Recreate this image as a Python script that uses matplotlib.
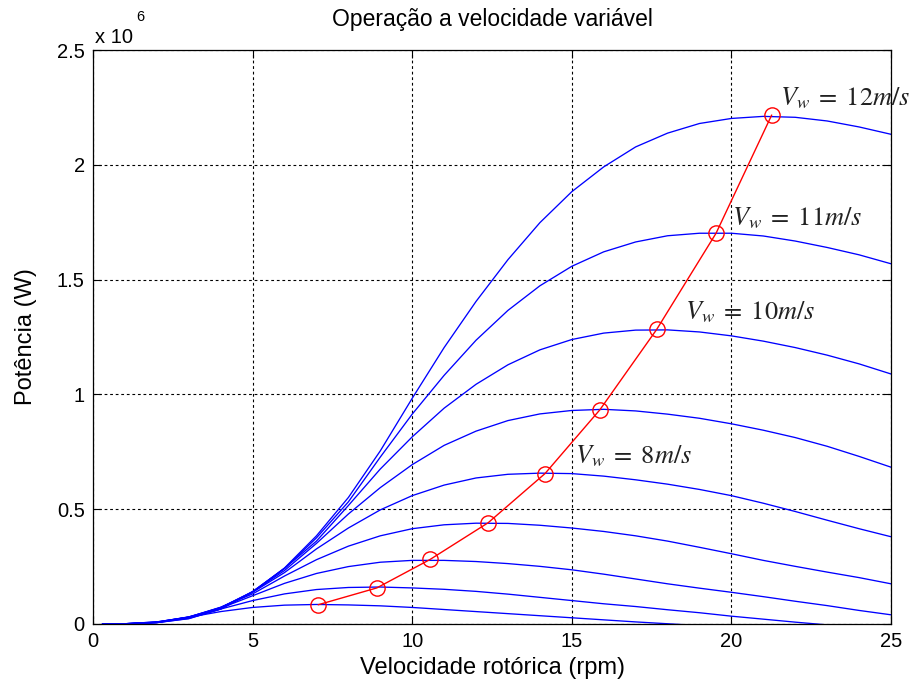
import matplotlib
matplotlib.use("Agg")
import matplotlib.pyplot as plt

plt.rcParams['font.family'] = ['Liberation Sans', 'DejaVu Sans']
plt.rcParams['mathtext.fontset'] = 'custom'
plt.rcParams['mathtext.rm'] = 'Liberation Sans'
plt.rcParams['mathtext.it'] = 'Liberation Sans:italic'

# rotor speed samples (rpm)
rpm = [0.3, 1, 2, 3, 4, 5, 6, 7, 8, 9, 10, 11, 12, 13, 14, 15, 16, 17, 18, 19, 20, 21, 22, 23, 24, 25]

# power curves (x 10^6 W), one per wind speed
P4 = [0, 0.001, 0.009, 0.029, 0.054, 0.072, 0.082, 0.085, 0.083, 0.079, 0.072, 0.063, 0.054,
      0.045, 0.036, 0.027, 0.018, 0.009, 0.001, -0.007, -0.016, -0.024, -0.031, -0.039, -0.047, -0.055]
P5 = [0, 0.001, 0.009, 0.030, 0.065, 0.102, 0.131, 0.150, 0.159, 0.161, 0.157, 0.151, 0.142,
      0.130, 0.116, 0.102, 0.088, 0.076, 0.062, 0.049, 0.034, 0.021, 0.008, -0.004, -0.017, -0.030]
P6 = [0, 0.001, 0.008, 0.031, 0.069, 0.123, 0.177, 0.220, 0.250, 0.269, 0.277, 0.277, 0.272,
      0.263, 0.251, 0.236, 0.217, 0.196, 0.175, 0.156, 0.138, 0.119, 0.099, 0.080, 0.059, 0.040]
P7 = [0, 0.001, 0.007, 0.030, 0.073, 0.131, 0.209, 0.280, 0.339, 0.384, 0.415, 0.432, 0.439,
      0.438, 0.430, 0.418, 0.403, 0.384, 0.361, 0.334, 0.306, 0.277, 0.251, 0.226, 0.202, 0.175]
P8 = [0, 0.001, 0.007, 0.030, 0.072, 0.138, 0.224, 0.327, 0.418, 0.497, 0.559, 0.605, 0.636,
      0.652, 0.657, 0.655, 0.644, 0.628, 0.609, 0.586, 0.559, 0.526, 0.490, 0.452, 0.415, 0.380]
P9 = [0, 0, 0.007, 0.028, 0.071, 0.140, 0.233, 0.351, 0.479, 0.594, 0.694, 0.778, 0.840,
      0.886, 0.915, 0.930, 0.935, 0.928, 0.914, 0.896, 0.872, 0.844, 0.812, 0.774, 0.730, 0.683]
P10 = [0, 0, 0.006, 0.027, 0.071, 0.141, 0.242, 0.361, 0.516, 0.675, 0.815, 0.940, 1.044,
       1.129, 1.194, 1.239, 1.267, 1.280, 1.281, 1.272, 1.255, 1.232, 1.204, 1.171, 1.133, 1.089]
P11 = [0, 0, 0.006, 0.024, 0.065, 0.141, 0.242, 0.375, 0.532, 0.727, 0.914, 1.083, 1.236,
       1.366, 1.473, 1.558, 1.621, 1.664, 1.691, 1.702, 1.702, 1.690, 1.668, 1.640, 1.608, 1.569]
P12 = [0, 0, 0.006, 0.023, 0.065, 0.139, 0.244, 0.384, 0.551, 0.754, 0.983, 1.204, 1.405,
       1.587, 1.748, 1.883, 1.991, 2.078, 2.138, 2.180, 2.202, 2.211, 2.207, 2.191, 2.165, 2.133]
curves = [P4, P5, P6, P7, P8, P9, P10, P11, P12]

# maximum power points
mpp_rpm = [7.06, 8.89, 10.56, 12.38, 14.16, 15.88, 17.66, 19.52, 21.26]
mpp_P = [0.084, 0.157, 0.281, 0.441, 0.655, 0.933, 1.283, 1.702, 2.216]

# curve annotations
ann_text = [r'$V_w\;=\;12m/s$', r'$V_w\;=\;11m/s$', r'$V_w\;=\;10m/s$', r'$V_w\;=\;8m/s$']
ann_x = [21.52, 20.01, 18.55, 15.10]
ann_y = [2.260, 1.738, 1.327, 0.700]

xticks = [0, 5, 10, 15, 20, 25]
yticks = [0, 0.5, 1, 1.5, 2, 2.5]
ytick_labels = ['0', '0.5', '1', '1.5', '2', '2.5']

fig = plt.figure(figsize=(9.23, 6.92), dpi=100)
ax = fig.add_axes([0.1008, 0.0983, 0.8645, 0.8294])

for P in curves:
    ax.plot(rpm, P, color='#0000ff', lw=0.95)
ax.plot(mpp_rpm, mpp_P, color='#ff0000', lw=1.0, marker='o', markersize=11,
        markerfacecolor='none', markeredgecolor='#ff0000', markeredgewidth=1.0)

for t, x, y in zip(ann_text, ann_x, ann_y):
    ax.text(x, y, t, fontsize=19, math_fontfamily='stix', ha='left', va='baseline',
            color='#222222', clip_on=False)

ax.set_xlim(0, 25)
ax.set_ylim(0, 2.5)
ax.set_xticks(xticks)
ax.set_yticks(yticks)
ax.set_yticklabels(ytick_labels)
ax.grid(True, color='black', linestyle=(0, (2.5, 2.5)), linewidth=0.8)
ax.tick_params(direction='in', top=True, right=True, length=6, width=0.8,
               labelsize=14.5, pad=6)
for s in ax.spines.values():
    s.set_linewidth(0.9)
    s.set_color('black')

ax.set_xlabel('Velocidade rotórica (rpm)', fontsize=17, labelpad=4)
ax.set_ylabel('Potência (W)', fontsize=17, labelpad=14)
ax.set_title('Operação a velocidade variável', fontsize=16.5, pad=17)

fig.text(0.1030, 0.932, 'x 10', fontsize=14.5, ha='left', va='bottom')
fig.text(0.1475, 0.966, '6', fontsize=10.5, ha='left', va='bottom')

fig.savefig('out.png', dpi=100)
